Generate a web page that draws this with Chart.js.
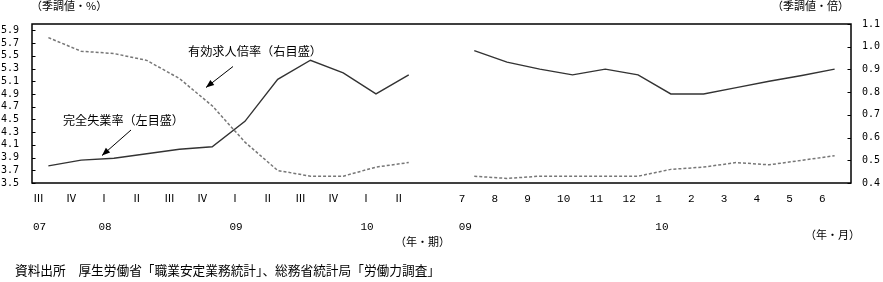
<!DOCTYPE html>
<html><head><meta charset="utf-8">
<script src="https://cdn.jsdelivr.net/npm/chart.js@4.4.1/dist/chart.umd.min.js"></script>
<style>
html,body{margin:0;padding:0;background:#fff;}
#wrap{position:relative;width:883px;height:282px;overflow:hidden;}
canvas{display:block;}
.t{position:absolute;white-space:nowrap;font-family:"Noto Sans CJK JP",sans-serif;color:#000;line-height:1;}
</style>
</head><body>
<div id="wrap">
<canvas id="c" width="883" height="282"></canvas>
<span class="t" style="left:31px;top:0px;font-size:11px;">（季調値・%）</span>
<span class="t" style="right:34px;top:0px;font-size:11px;">（季調値・倍）</span>
<span class="t" style="left:188px;top:45px;font-size:12.2px;">有効求人倍率（右目盛）</span>
<span class="t" style="left:63px;top:114px;font-size:12.1px;">完全失業率（左目盛）</span>
<span class="t" style="right:433px;top:236px;font-size:11px;">（年・期）</span>
<span class="t" style="right:23px;top:229px;font-size:11px;">（年・月）</span>
<span class="t" style="left:15px;top:264px;font-size:12.7px;">資料出所　厚生労働省「職業安定業務統計」、総務省統計局「労働力調査」</span>
</div>
<script>
// Categories: 12 quarters (2007 III – 2010 II), a gap, 12 months (2009/7 – 2010/6)
const periodLabels = ['Ⅲ','Ⅳ','Ⅰ','Ⅱ','Ⅲ','Ⅳ','Ⅰ','Ⅱ','Ⅲ','Ⅳ','Ⅰ','Ⅱ','','7','8','9','10','11','12','1','2','3','4','5','6'];
const yearLabels   = ['07','','08','','','','09','','','','10','','','09','','','','','','10','','','','',''];
// 完全失業率（%, left axis)
const unemployment = [3.77,3.86,3.89,3.96,4.03,4.07,4.47,5.13,5.43,5.23,4.90,5.20,null,5.58,5.40,5.29,5.20,5.29,5.20,4.90,4.90,5.00,5.10,5.19,5.29];
// 有効求人倍率（倍, right axis)
const jobRatio = [1.04,0.98,0.97,0.94,0.86,0.74,0.58,0.455,0.43,0.43,0.47,0.49,null,0.43,0.42,0.43,0.43,0.43,0.43,0.46,0.47,0.49,0.48,0.50,0.52];
const leftTicks = [3.5,3.7,3.9,4.1,4.3,4.5,4.7,4.9,5.1,5.3,5.5,5.7,5.9];
const rightTicks = [0.4,0.5,0.6,0.7,0.8,0.9,1.0,1.1];

const labels = periodLabels.map((p,i)=>[p, yearLabels[i]]);
const numFont = {family:'"DejaVu Sans Mono","Liberation Mono",monospace', size:10};

function arrow(ctx, x1, y1, x2, y2){
  ctx.save();
  ctx.setLineDash([]);
  ctx.strokeStyle='#000'; ctx.fillStyle='#000'; ctx.lineWidth=1;
  ctx.beginPath(); ctx.moveTo(x1,y1); ctx.lineTo(x2,y2); ctx.stroke();
  const a=Math.atan2(y2-y1,x2-x1), L=8, W=3.2;
  ctx.beginPath();
  ctx.moveTo(x2,y2);
  ctx.lineTo(x2-L*Math.cos(a)+W*Math.sin(a), y2-L*Math.sin(a)-W*Math.cos(a));
  ctx.lineTo(x2-L*Math.cos(a)-W*Math.sin(a), y2-L*Math.sin(a)+W*Math.cos(a));
  ctx.closePath(); ctx.fill();
  ctx.restore();
}

const framePlugin = {
  id:'frame',
  afterDraw(chart){
    const ctx = chart.ctx;
    const ca = chart.chartArea;
    const yL = chart.scales.yL, yR = chart.scales.yR;
    const L = ca.left, R = ca.right, T = ca.top, B = ca.bottom;
    ctx.save();
    ctx.setLineDash([]);
    ctx.strokeStyle = '#000';
    ctx.lineWidth = 1.5;
    ctx.strokeRect(L, T, R - L, B - T);
    ctx.lineWidth = 1;
    ctx.beginPath();
    leftTicks.forEach(v=>{const y=Math.round(yL.getPixelForValue(v))+0.5; ctx.moveTo(L, y); ctx.lineTo(L+3.5, y);});
    rightTicks.forEach(v=>{const y=Math.round(yR.getPixelForValue(v))+0.5; ctx.moveTo(R-3.5, y); ctx.lineTo(R, y);});
    ctx.stroke();
    ctx.restore();
    arrow(ctx, 233, 66.5, 206, 87.5);
    arrow(ctx, 131, 130, 102, 155.5);
  }
};

new Chart(document.getElementById('c'), {
  type:'line',
  data:{
    labels: labels,
    datasets:[
      {label:'完全失業率', data: unemployment, yAxisID:'yL', borderColor:'#333', borderWidth:1.4, pointRadius:0, tension:0, spanGaps:false, fill:false},
      {label:'有効求人倍率', data: jobRatio, yAxisID:'yR', borderColor:'#777', borderWidth:1.5, borderDash:[3,2], pointRadius:0, tension:0, spanGaps:false, fill:false}
    ]
  },
  options:{
    responsive:false, animation:false, devicePixelRatio:1,
    layout:{padding:{top:24,left:0,right:0,bottom:0}},
    plugins:{legend:{display:false}, tooltip:{enabled:false}, title:{display:false}},
    scales:{
      x:{type:'category', offset:true,
        grid:{display:false, drawTicks:false}, border:{display:false},
        ticks:{autoSkip:false, maxRotation:0, minRotation:0, align:'start', labelOffset:-15.5, padding:2, color:'#000',
          font:{family:'"Liberation Mono","Noto Sans CJK JP",monospace', size:11, lineHeight:'28px'}},
        afterFit(s){ s.height = 99; }
      },
      yL:{type:'linear', position:'left', min:3.5, max:6.0,
        afterBuildTicks(s){ s.ticks = leftTicks.map(v=>({value:v})); },
        afterFit(s){ s.width = 32; },
        grid:{display:false, drawTicks:false}, border:{display:false},
        ticks:{autoSkip:false, padding:13, color:'#000', font:numFont, callback:v=>Number(v).toFixed(1)}
      },
      yR:{type:'linear', position:'right', min:0.4, max:1.1,
        afterBuildTicks(s){ s.ticks = rightTicks.map(v=>({value:v})); },
        afterFit(s){ s.width = 32; },
        grid:{display:false, drawTicks:false}, border:{display:false},
        ticks:{autoSkip:false, padding:11, color:'#000', font:numFont, callback:v=>Number(v).toFixed(1)}
      }
    }
  },
  plugins:[framePlugin]
});
</script>
</body></html>
